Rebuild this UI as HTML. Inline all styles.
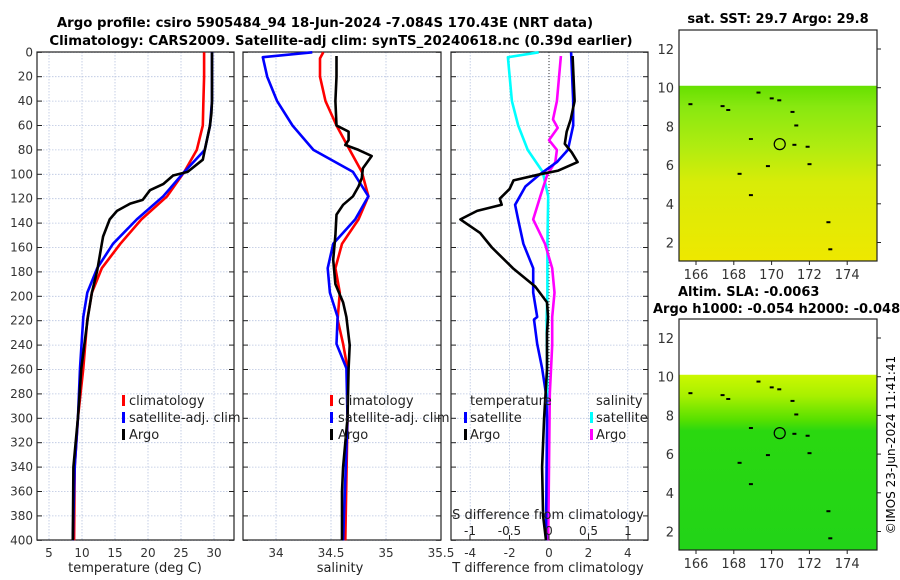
<!DOCTYPE html>
<html><head><meta charset="utf-8"><style>
body{margin:0;background:#fff;}
svg{display:block;font-family:"DejaVu Sans","Liberation Sans",sans-serif;}
</style></head><body>
<svg id="fig" width="900" height="580" viewBox="0 0 900 580">
<text x="325" y="27" text-anchor="middle" font-size="13.3" font-weight="bold">Argo profile: csiro 5905484_94 18-Jun-2024 -7.084S 170.43E (NRT data)</text>
<text x="341" y="45" text-anchor="middle" font-size="13.3" font-weight="bold">Climatology: CARS2009. Satellite-adj clim: synTS_20240618.nc (0.39d earlier)</text>
<g id="plots"></g>
<text x="778" y="23" text-anchor="middle" font-size="13" font-weight="bold">sat. SST: 29.7 Argo: 29.8</text>
<text x="678" y="296" font-size="13" font-weight="bold">Altim. SLA: -0.0063</text>
<text x="653" y="313" font-size="13" font-weight="bold">Argo h1000: -0.054 h2000: -0.048</text>
<text transform="translate(895,445) rotate(-90)" text-anchor="middle" font-size="12">©IMOS 23-Jun-2024 11:41:41</text>
</svg>
<script>
// ---- data ----
const depthTicks=[0,20,40,60,80,100,120,140,160,180,200,220,240,260,280,300,320,340,360,380,400];
const tempTicks=[5,10,15,20,25,30];
const salTicks=[34,34.5,35,35.5];
const tdiffTicks=[-4,-2,0,2,4];
const sdiffTicks=[-1,-0.5,0,0.5,1];
const latTicks=[2,4,6,8,10,12];
const lonTicks=[166,168,170,172,174];

const climTDepth=[0,20,40,60,80,98,118,137,157,177,197,219,259,299,340,400];
const climT=[28.5,28.5,28.4,28.3,27.4,25.5,22.9,19.0,15.8,13.0,11.5,10.8,10.2,9.4,8.9,8.8];
const satTDepth=[0,20,40,60,80,98,118,137,157,177,197,217,259,299,340,400];
const satT=[29.7,29.7,29.7,29.4,28.6,25.5,22.3,18.3,14.7,12.3,10.8,10.2,9.7,9.4,8.9,8.6];
const argoTDepth=[0,20,40,50,60,80,88,98,101,108,113,121,124,130,137,151,157,179,197,217,259,299,340,400];
const argoT=[29.7,29.7,29.7,29.6,29.4,28.6,28.3,26.0,23.8,22.3,20.3,19.2,17.3,15.3,14.2,13.2,13.0,12.3,11.5,10.9,9.9,9.4,8.7,8.6];

const climSDepth=[0,5,20,40,60,80,98,118,137,157,177,197,219,239,259,300,400];
const climS=[34.43,34.40,34.40,34.45,34.55,34.67,34.78,34.84,34.75,34.60,34.54,34.58,34.56,34.61,34.65,34.65,34.63];
const satSDepth=[0,4,20,40,60,80,98,118,137,157,177,197,217,239,259,300,400];
const satS=[34.33,33.88,33.92,34.01,34.15,34.34,34.70,34.84,34.72,34.52,34.47,34.49,34.56,34.55,34.64,34.65,34.61];
const argoSDepth=[3,20,40,60,65,72,76,80,85,90,95,103,110,118,125,133,150,170,190,205,217,240,259,300,340,360,400];
const argoS=[34.55,34.55,34.54,34.55,34.66,34.66,34.63,34.75,34.87,34.83,34.79,34.78,34.75,34.70,34.61,34.55,34.54,34.52,34.54,34.61,34.64,34.67,34.66,34.65,34.61,34.60,34.60];

const dSatSDepth=[0,4,40,60,80,98,118,157,197,219,280,400];
const dSatS=[-0.13,-0.52,-0.47,-0.39,-0.27,-0.08,-0.01,-0.02,-0.02,-0.03,-0.02,-0.03];
const dArgoSDepth=[3,40,55,62,72,80,90,100,118,137,157,177,197,217,240,280,400];
const dArgoS=[0.15,0.10,0.05,0.11,0.0,0.10,0.08,-0.02,-0.11,-0.20,-0.05,0.04,0.07,0.04,0.04,0.01,-0.01];
const dSatTDepth=[0,40,60,80,90,100,110,125,137,157,177,197,217,219,239,259,280,300,400];
const dSatT=[1.12,1.23,1.23,0.96,0.40,-0.46,-1.20,-1.72,-1.57,-1.30,-0.80,-0.80,-0.60,-0.76,-0.60,-0.35,-0.15,-0.10,-0.15];
const dArgoTDepth=[3,40,55,65,75,82,90,97,100,105,112,120,125,130,137,148,160,177,192,205,217,230,260,300,340,380,400];
const dArgoT=[1.2,1.3,1.1,0.9,0.8,1.15,1.45,0.47,-0.46,-1.8,-2.0,-2.5,-2.4,-3.65,-4.5,-3.5,-2.9,-1.83,-0.7,-0.1,-0.05,-0.1,-0.1,-0.25,-0.35,-0.3,-0.15];

// ---- helpers ----
const NS="http://www.w3.org/2000/svg";
const root=document.getElementById('plots');
function mk(tag,attrs,parent){const e=document.createElementNS(NS,tag);for(const k in attrs)e.setAttribute(k,attrs[k]);(parent||root).appendChild(e);return e;}
const yD=d=>52.3+d*1.22;
const PT=37,PB=540;
const xT=v=>49+(v-5)*6.6;
const xS=v=>276+(v-34)*110;
const xTd=v=>549+v*19.7;
const xSd=v=>549+v*79;

function panel(x0,x1,name,ticks,xf,labels){
  const g=mk('g',{});
  
  
  ticks.forEach(t=>{const l=mk('line',{x1:xf(t),x2:xf(t),y1:52,y2:PB,stroke:'#b8c4e0','stroke-width':0.8,'stroke-dasharray':'1.5,1.5'},g);
    });
  depthTicks.forEach(d=>{const y=yD(d);
    const l=mk('line',{x1:x0,x2:x1,y1:y,y2:y,stroke:'#b8c4e0','stroke-width':0.8,'stroke-dasharray':'1.5,1.5'},g);
    
    const a=mk('line',{x1:x0,x2:x0+5,y1:y,y2:y,stroke:'#222'},g);
    
    const b=mk('line',{x1:x1-5,x2:x1,y1:y,y2:y,stroke:'#222'},g);
    
  });
  if(labels){ticks.forEach(t=>{const tx=mk('text',{x:xf(t),y:557,'text-anchor':'middle','font-size':12,fill:'#333'},g);tx.textContent=String(t);
    });}
  const r=mk('rect',{x:x0,y:52,width:x1-x0,height:PB-52,fill:'none',stroke:'#222','stroke-width':1.2},g);
  
  return g;
}
function line(g,depths,vals,xf,color,name){
  const pts=depths.map((d,i)=>xf(vals[i]).toFixed(1)+','+yD(d).toFixed(1)).join(' ');
  const p=mk('polyline',{points:pts,fill:'none',stroke:color,'stroke-width':2.6,'stroke-linejoin':'round'},g);
  
  
}
function txt(g,x,y,s,name,anchor,size){const t=mk('text',{x:x,y:y,'font-size':size||13,'text-anchor':anchor||'start',fill:'#222'},g);t.textContent=s;
  return t;}
function legendMark(g,x,y,color){const r=mk('rect',{x:x,y:y-10,width:3,height:11,fill:color},g);
  }

// panel 1 temperature
const g1=panel(PT,234,'temperature-panel',tempTicks,xT,true);
depthTicks.forEach(d=>{const t=txt(g1,33,yD(d)+4,String(d),'depth-tick-label','end',12);t.setAttribute('fill','#333');});
line(g1,climTDepth,climT,xT,'#ff0000','temp-climatology-line');
line(g1,satTDepth,satT,xT,'#0000ff','temp-satellite-line');
line(g1,argoTDepth,argoT,xT,'#000000','temp-argo-line');
txt(g1,135,572,'temperature (deg C)','x-axis-title','middle',13);
legendMark(g1,122,405,'#ff0000');txt(g1,129,405,'climatology','legend-climatology');
legendMark(g1,122,422,'#0000ff');txt(g1,129,422,'satellite-adj. clim','legend-satellite');
legendMark(g1,122,439,'#000');txt(g1,129,439,'Argo','legend-argo');

// panel 2 salinity
const g2=panel(243,441,'salinity-panel',salTicks,xS,true);
line(g2,climSDepth,climS,xS,'#ff0000','sal-climatology-line');
line(g2,satSDepth,satS,xS,'#0000ff','sal-satellite-line');
line(g2,argoSDepth,argoS,xS,'#000000','sal-argo-line');
txt(g2,340,572,'salinity','x-axis-title','middle',13);
legendMark(g2,330,405,'#ff0000');txt(g2,338,405,'climatology','legend-climatology');
legendMark(g2,330,422,'#0000ff');txt(g2,338,422,'satellite-adj. clim','legend-satellite');
legendMark(g2,330,439,'#000');txt(g2,338,439,'Argo','legend-argo');

// panel 3 differences
const g3=panel(451,648,'difference-panel',tdiffTicks,xTd,true);
const z=mk('line',{x1:549,x2:549,y1:52,y2:PB,stroke:'#333','stroke-width':1,'stroke-dasharray':'1,2'},g3);

line(g3,dSatSDepth,dSatS,xSd,'#00ffff','sdiff-satellite-line');
line(g3,dArgoSDepth,dArgoS,xSd,'#ff00ff','sdiff-argo-line');
line(g3,dSatTDepth,dSatT,xTd,'#0000ff','tdiff-satellite-line');
line(g3,dArgoTDepth,dArgoT,xTd,'#000000','tdiff-argo-line');
txt(g3,548,572,'T difference from climatology','x-axis-title','middle',13);
txt(g3,548,519,'S difference from climatology','s-axis-title','middle',13);
sdiffTicks.forEach(t=>{txt(g3,xSd(t),535,String(t),'s-tick-label','middle',12);
  const tk=mk('line',{x1:xSd(t),x2:xSd(t),y1:PB-5,y2:PB,stroke:'#222'},g3);});
txt(g3,470,405,'temperature','legend-temperature-header');
txt(g3,596,405,'salinity','legend-salinity-header');
legendMark(g3,464,422,'#0000ff');txt(g3,470,422,'satellite','legend-t-satellite');
legendMark(g3,464,439,'#000');txt(g3,470,439,'Argo','legend-t-argo');
legendMark(g3,590,422,'#00ffff');txt(g3,596,422,'satellite','legend-s-satellite');
legendMark(g3,590,439,'#ff00ff');txt(g3,596,439,'Argo','legend-s-argo');

// maps
const islands=[[169.2,9.8],[169.9,9.5],[170.3,9.4],[167.3,9.1],[167.6,8.9],[171.0,8.8],[171.2,8.1],[168.8,7.4],[171.1,7.1],[171.8,7.0],[169.7,6.0],[171.9,6.1],[168.2,5.6],[168.8,4.5],[172.9,3.1],[173.0,1.7],[165.6,9.2]];
function map(y0,name,top,name2){
  const X0=679,X1=877,Y1=y0+231;
  const xL=v=>696+(v-166)*18.9;
  const yL=v=>y0+19+(12-v)*19.35;
  const g=mk('g',{});
  
  
  const d=mk('rect',{x:X0,y:yL(10.1),width:X1-X0,height:Y1-yL(10.1),fill:'url(#'+top+')'},g);
  
  islands.forEach(p=>{const c=mk('rect',{x:xL(p[0]),y:yL(p[1]),width:4,height:2,fill:'#000'},g);
    });
  const c=mk('circle',{cx:xL(170.43),cy:yL(7.084),r:5.5,fill:'none',stroke:'#000','stroke-width':1.2},g);
  
  const r=mk('rect',{x:X0,y:y0,width:X1-X0,height:Y1-y0,fill:'none',stroke:'#222','stroke-width':1.2},g);
  
  latTicks.forEach(t=>{const y=yL(t);const tx=txt(g,674,y+5,String(t),'lat-tick-label','end',13);tx.setAttribute('fill','#333');
    const tk=mk('line',{x1:X1,x2:X1+4,y1:y,y2:y,stroke:'#222'},g);});
  lonTicks.forEach(t=>{const x=xL(t);const tx=txt(g,x,Y1+18,String(t),'lon-tick-label','middle',13);tx.setAttribute('fill','#333');
    const tk=mk('line',{x1:x,x2:x,y1:Y1,y2:Y1+4,stroke:'#222'},g);});
}
const defs=mk('defs',{},document.getElementById('fig'));
defs.innerHTML='<linearGradient id="sstg" x1="0" y1="0" x2="0" y2="1"><stop offset="0" stop-color="#66e000"/><stop offset="0.12" stop-color="#88e810"/><stop offset="0.35" stop-color="#b0ec10"/><stop offset="0.55" stop-color="#d8ec08"/><stop offset="1" stop-color="#eee800"/></linearGradient>'+
'<linearGradient id="slag" x1="0" y1="0" x2="0" y2="1"><stop offset="0" stop-color="#ccf800"/><stop offset="0.12" stop-color="#a8f000"/><stop offset="0.26" stop-color="#55e000"/><stop offset="0.32" stop-color="#2ad810"/><stop offset="1" stop-color="#22d418"/></linearGradient>';
map(30,'sst-map','sstg','sst-field');
map(319,'sla-map','slag','sla-field');
</script>
</body></html>
